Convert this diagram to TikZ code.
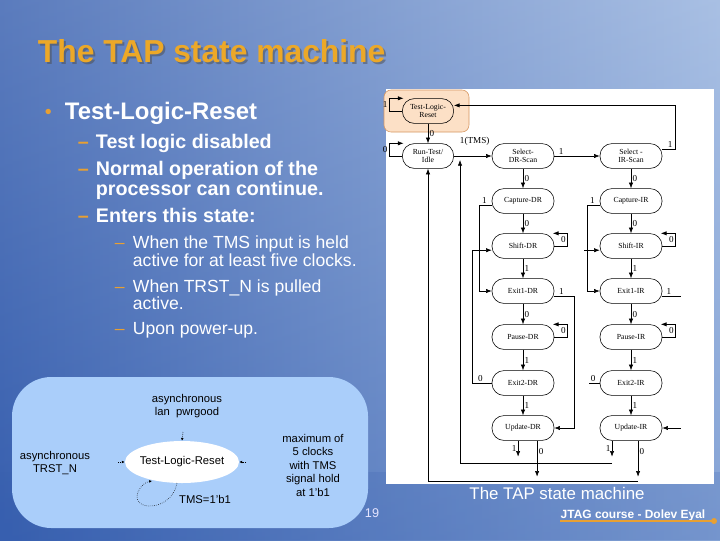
\documentclass[tikz,border=0pt]{standalone}
\usepackage{fontspec}
\setmainfont{Liberation Sans}
\newfontfamily\diagfont{Liberation Serif}
\usetikzlibrary{arrows.meta,shapes.geometric}

\definecolor{bgdark}{RGB}{55,95,175}
\definecolor{bglight}{RGB}{150,178,222}
\definecolor{titleorange}{RGB}{236,168,40}
\definecolor{dashorange}{RGB}{232,160,50}
\definecolor{panelblue}{RGB}{170,206,250}
\definecolor{peach}{RGB}{252,224,198}
\definecolor{peachline}{RGB}{214,150,96}

\begin{document}
\begin{tikzpicture}[x=0.025cm,y=-0.025cm,
  state/.style={draw,thin,rounded corners=8.5pt,minimum width=1.55cm,minimum height=0.62cm,
    inner sep=0pt,align=center,font=\diagfont\fontsize{5.5}{6}\selectfont},
  short/.style={state,minimum width=1.28cm},
  tr/.style={-{Latex[length=4pt,width=3pt]},thin},
  lbl/.style={font=\diagfont\fontsize{6.5}{7}\selectfont,inner sep=1pt},
  line/.style={anchor=base west,text=white},
  dashmark/.style={anchor=base west,text=dashorange},
  note/.style={font=\fontsize{8}{9.6}\selectfont,align=center},
  dotarrow/.style={densely dotted,-{Latex[length=2pt,width=2pt]}}]
\useasboundingbox (0,0) rectangle (720,540);

% slide background
\shade[left color=bgdark,right color=bglight] (0,0) rectangle (720,540);
\shade[top color=white,bottom color=bgdark,opacity=0.18] (0,0) rectangle (720,540);
\fill[bgdark,opacity=0.2] (0,540) rectangle (720,472);

% title and bullets
\node[anchor=base west,text=black!70,opacity=0.5,font=\bfseries\fontsize{22.6}{26}\selectfont] (titleshade) at (35,64) {The TAP state machine};
\node[anchor=base west,text=titleorange,font=\bfseries\fontsize{22.6}{26}\selectfont] (title) at (33,62) {The TAP state machine};

\node[anchor=base west,text=dashorange,font=\fontsize{14}{14}\selectfont] (b0) at (40,118) {\textbullet};
\node[line,font=\bfseries\fontsize{17}{20}\selectfont] (l0) at (60,119) {Test-Logic-Reset};

\node[dashmark,font=\bfseries\fontsize{14}{16}\selectfont] (d1) at (73,148) {--};
\node[line,font=\bfseries\fontsize{14}{16}\selectfont] (l1) at (91,148) {Test logic disabled};
\node[dashmark,font=\bfseries\fontsize{14}{16}\selectfont] (d2) at (73,175) {--};
\node[line,font=\bfseries\fontsize{14}{16}\selectfont] (l2) at (91,175) {Normal operation of the};
\node[line,font=\bfseries\fontsize{14}{16}\selectfont] (l3) at (91,195) {processor can continue.};
\node[dashmark,font=\bfseries\fontsize{14}{16}\selectfont] (d3) at (73,222) {--};
\node[line,font=\bfseries\fontsize{14}{16}\selectfont] (l4) at (91,222) {Enters this state:};

\node[dashmark,font=\fontsize{12.5}{14}\selectfont] (d4) at (110,248) {--};
\node[line,font=\fontsize{12.5}{14}\selectfont] (l5) at (128,248) {When the TMS input is held};
\node[line,font=\fontsize{12.5}{14}\selectfont] (l6) at (128,266) {active for at least five clocks.};
\node[dashmark,font=\fontsize{12.5}{14}\selectfont] (d5) at (110,292) {--};
\node[line,font=\fontsize{12.5}{14}\selectfont] (l7) at (128,292) {When TRST\_N is pulled};
\node[line,font=\fontsize{12.5}{14}\selectfont] (l8) at (128,309) {active.};
\node[dashmark,font=\fontsize{12.5}{14}\selectfont] (d6) at (110,334) {--};
\node[line,font=\fontsize{12.5}{14}\selectfont] (l9) at (128,334) {Upon power-up.};

% state diagram panel
\fill[white] (386,89) rectangle (714,484);
\draw[peachline,fill=peach,rounded corners=5pt] (384,90) rectangle (469,132);

\node[short] (tlr) at (428,111) {Test-Logic-\\Reset};
\node[short] (rti) at (428,156) {Run-Test/\\Idle};
\node[state] (sdr) at (523,156) {Select-\\DR-Scan};
\node[state] (sir) at (631,156) {Select -\\IR-Scan};
\node[state] (cdr) at (523,201) {Capture-DR};
\node[state] (cir) at (631,201) {Capture-IR};
\node[state] (shdr) at (523,246) {Shift-DR};
\node[state] (shir) at (631,246) {Shift-IR};
\node[state] (exdr) at (523,291) {Exit1-DR};
\node[state] (exir) at (631,291) {Exit1-IR};
\node[state] (padr) at (523,337) {Pause-DR};
\node[state] (pair) at (631,337) {Pause-IR};
\node[state] (xtdr) at (523,383) {Exit2-DR};
\node[state] (xtir) at (631,383) {Exit2-IR};
\node[state] (updr) at (523,428) {Update-DR};
\node[state] (upir) at (631,428) {Update-IR};

% straight transitions
\foreach \a/\b/\v in {tlr/rti/0,sdr/cdr/0,cdr/shdr/0,shdr/exdr/1,exdr/padr/0,padr/xtdr/1,xtdr/updr/1,
    sir/cir/0,cir/shir/0,shir/exir/1,exir/pair/0,pair/xtir/1,xtir/upir/1}
  \draw[tr] (\a) -- node[lbl,right] {\v} (\b);
\draw[tr] (rti) -- node[lbl,above=6pt,pos=0.55] {1(TMS)} (sdr);
\draw[tr] (sdr) -- node[lbl,above,pos=0.15] {1} (sir);

% loops
\draw[tr] (tlr.west) -- ++(-13,0) |- node[lbl,left,pos=0.25] {1} ([xshift=1pt]tlr.north west);
\draw[tr] (rti.west) -- ++(-13,0) |- node[lbl,left,pos=0.25] {0} ([xshift=1pt]rti.north west);
\foreach \s in {shdr,padr,shir,pair}
  \draw[tr] (\s.east) -- ++(13,0) |- node[lbl,left,pos=0.25] {0} ([xshift=-1pt]\s.north east);

% back edges
\draw[tr] ([yshift=5pt]sir.east) -- node[lbl,above,pos=0.6] {1} ++(13,0) |- ([yshift=4pt]tlr.east);
\draw[tr] ([yshift=-3pt]cdr.west) -- node[lbl,above,pos=0.6] {1} ++(-12,0) |- (exdr.west);
\draw[tr] (xtdr.west) -- node[lbl,above,pos=0.6] {0} ++(-19,0) |- ([yshift=-3pt]shdr.west);
\draw[tr] ([yshift=-4pt]exdr.east) -- node[lbl,above,pos=0.35] {1} ++(20,0) |- (updr.east);
\draw[tr] ([yshift=-3pt]cir.west) -- node[lbl,above,pos=0.6] {1} ++(-12,0) |- (exir.west);
\draw[tr] ([xshift=-11pt,yshift=-3pt]shir.west) -- ([yshift=-3pt]shir.west);
\draw (xtir.west) -- node[lbl,above,pos=0.6] {0} ++(-11,0);
\draw ([yshift=-4pt]exir.east) -- node[lbl,above,pos=0.35] {1} ++(19,0);
\draw[tr] ([xshift=13pt]upir.east) -- (upir.east);

% update exits
\draw[tr] ([xshift=-3.5pt]updr.south) -- node[lbl,left] {1} ++(0,16);
\draw[tr] ([xshift=10pt]updr.south) -- node[lbl,right,pos=0.3] {0} ++(0,36);
\draw[tr] ([xshift=-13.5pt]upir.south) -- node[lbl,left] {1} ++(0,16);
\draw[tr] ([xshift=5pt]upir.south) -- node[lbl,right,pos=0.3] {0} ++(0,36);
\coordinate (back1) at (612,463);
\coordinate (back0) at (638,481);
\draw[tr] (back1) -| (460,160);
\draw[tr] (back0) -| (rti.south);

% footer
\node[text=white,font=\fontsize{12}{14}\selectfont] (foot) at (557,493) {The TAP state machine};
\node[text=white,font=\bfseries\fontsize{8.5}{10}\selectfont] (course) at (633,515) {JTAG course - Dolev Eyal};
\coordinate (rulestart) at (560,521);
\fill[dashorange] (714,521) circle (3);
\draw[dashorange,line width=1pt] (rulestart) -- (714,521);

% reset summary box
\fill[panelblue,rounded corners=28pt] (12,377) rectangle (368,528);
\node[draw=none,fill=white,ellipse,minimum width=2.85cm,minimum height=1.05cm] (tlrbox) at (182,462) {};
\node[font=\fontsize{8}{9.6}\selectfont] (tlrtext) at (182,462) {Test-Logic-Reset};
\node[note] (lanpwr) at (187,406) {asynchronous\\lan\ \ pwrgood};
\node[note] (trstn) at (55,463) {asynchronous\\TRST\_N};
\node[note] (maxclk) at (313,465) {maximum of\\5 clocks\\with TMS\\signal hold\\at 1'b1};
\node[note] (tmsone) at (205,499) {TMS=1'b1};
\draw[dotarrow] (183,432) -- (tlrbox.north);
\draw[dotarrow] (118,462) -- (tlrbox.west);
\draw[dotarrow] (246,462) -- (tlrbox.east);
\draw[dotarrow] (177,483) .. controls (172,512) and (130,512) .. (138,492) .. controls (141,485) and (146,482) .. (152,481);
\node[text=white!90!blue,font=\fontsize{9}{10}\selectfont] (pageno) at (372,513) {19};
\end{tikzpicture}
\end{document}
